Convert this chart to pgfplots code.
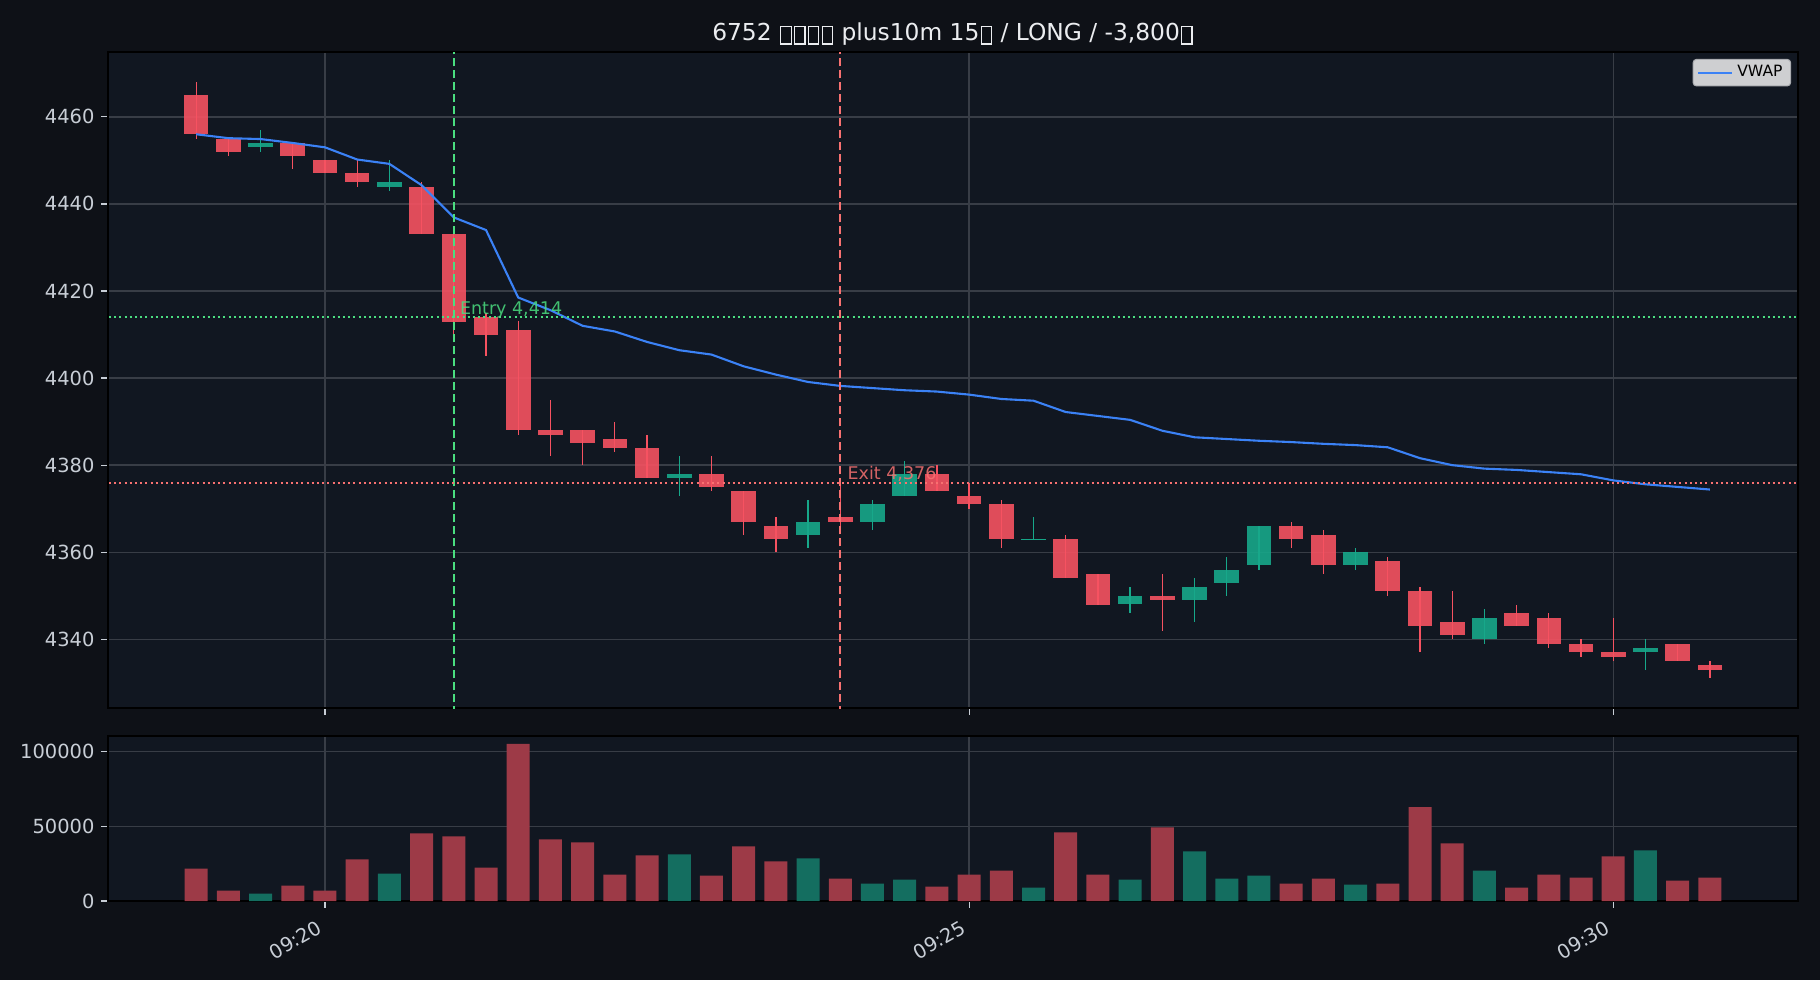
\documentclass[border=0pt]{standalone}
\usepackage{fontspec}
\setmainfont{DejaVu Sans}
\usepackage{pgfplots}
\pgfplotsset{compat=1.18}
\usepackage{pgfplotstable}

\definecolor{figbg}{RGB}{14,17,23}
\definecolor{axbg}{RGB}{17,23,33}
\definecolor{gridc}{RGB}{56,61,70}
\definecolor{tickc}{RGB}{200,206,214}
\definecolor{titlec}{RGB}{235,237,240}
\definecolor{upc}{RGB}{23,168,138}
\definecolor{downc}{RGB}{246,82,97}
\definecolor{volup}{RGB}{20,110,96}
\definecolor{voldown}{RGB}{157,58,71}
\definecolor{vwapc}{RGB}{59,130,246}
\definecolor{entryc}{RGB}{74,222,128}
\definecolor{exitc}{RGB}{248,113,113}
\definecolor{legbg}{RGB}{206,207,209}
\definecolor{legedge}{RGB}{170,172,176}

% 15-second bars: t = minutes after 09:00, OHLC, volume, running VWAP
\pgfplotstableread{
t     o    h    l    c    v      vw
19.00 4465 4468 4455 4456 21700  4456.0
19.25 4455 4455 4451 4452 7000   4455.1
19.50 4453 4457 4452 4454 4900   4454.9
19.75 4454 4454 4448 4451 10300  4454.0
20.00 4450 4450 4447 4447 7000   4453.0
20.25 4447 4450 4444 4445 27800  4450.2
20.50 4444 4450 4443 4445 18400  4449.2
20.75 4444 4445 4433 4433 45300  4444.3
21.00 4433 4433 4410 4413 43300  4436.9
21.25 4414 4415 4405 4410 22400  4434.0
21.50 4411 4413 4387 4388 105200 4418.5
21.75 4388 4395 4382 4387 41200  4415.6
22.00 4388 4388 4380 4385 39200  4412.0
22.25 4386 4390 4383 4384 17700  4410.7
22.50 4384 4387 4377 4377 30500  4408.3
22.75 4377 4382 4373 4378 31200  4406.4
23.00 4378 4382 4374 4375 17000  4405.4
23.25 4374 4374 4364 4367 36500  4402.7
23.50 4366 4368 4360 4363 26500  4400.8
23.75 4364 4372 4361 4367 28500  4399.1
24.00 4368 4377 4366 4367 15000  4398.2
24.25 4367 4372 4365 4371 11700  4397.7
24.50 4373 4381 4373 4378 14300  4397.2
24.75 4378 4380 4374 4374 9600   4396.9
25.00 4373 4376 4370 4371 17700  4396.2
25.25 4371 4372 4361 4363 20400  4395.2
25.50 4363 4368 4363 4363 9000   4394.8
25.75 4363 4364 4354 4354 46000  4392.2
26.00 4355 4355 4348 4348 17700  4391.3
26.25 4348 4352 4346 4350 14300  4390.4
26.50 4350 4355 4342 4349 49300  4387.9
26.75 4349 4354 4344 4352 33200  4386.4
27.00 4353 4359 4350 4356 15000  4386.0
27.25 4357 4366 4356 4366 17000  4385.6
27.50 4366 4367 4361 4363 11700  4385.3
27.75 4364 4365 4355 4357 15000  4384.9
28.00 4357 4361 4356 4360 11000  4384.6
28.25 4358 4359 4350 4351 11700  4384.1
28.50 4351 4352 4337 4343 62800  4381.6
28.75 4344 4351 4340 4341 38600  4380.0
29.00 4340 4347 4339 4345 20400  4379.2
29.25 4346 4348 4343 4343 9000   4378.9
29.50 4345 4346 4338 4339 17700  4378.4
29.75 4339 4340 4336 4337 15700  4377.9
30.00 4337 4345 4335 4336 29800  4376.5
30.25 4337 4340 4333 4338 33900  4375.6
30.50 4339 4339 4335 4335 13700  4375.0
30.75 4334 4335 4331 4333 15700  4374.4
}\bars

% placeholder box for glyphs missing from the font
\newcommand\tofu{\kern0.05em\raisebox{-0.14em}{\setlength\fboxsep{0pt}\setlength\fboxrule{0.05em}\fbox{\rule{0pt}{0.7em}\rule{0.39em}{0pt}}}\kern0.05em}

\pgfplotsset{
  panel/.style={
    scale only axis, anchor=south west,
    axis background/.style={fill=axbg},
    xmin=18.3157, xmax=31.4343,
    grid=major, major grid style={gridc, line width=0.7pt},
    axis line style={black, line width=0.8pt},
    tick align=outside, major tick length=3.4pt,
    every tick/.style={tickc, line width=0.6pt},
    xtick pos=left, ytick pos=left,
    xtick={20,25,30},
    tick label style={font=\fontsize{9.72}{11}\selectfont, text=tickc},
    yticklabel style={anchor=east, inner sep=0pt, xshift=-3.2pt},
    /pgf/number format/assume math mode=true,
    /pgf/number format/fixed,
    /pgf/number format/precision=0,
    /pgf/number format/1000 sep={},
    scaled y ticks=false,
  },
  wick/.style={draw=none, mark=none, forget plot,
    error bars/.cd, y dir=both, y explicit, error mark=none,
    error bar style={draw=#1, solid, line width=0.65pt}},
  body/.style={draw=none, mark=none, forget plot,
    error bars/.cd, y dir=both, y explicit, error mark=none,
    error bar style={draw=#1, solid, draw opacity=0.9, line width=12.3pt}},
}

\begin{document}
\begin{tikzpicture}
\fill[figbg] (0,0) rectangle (910pt,490pt);
\path[use as bounding box] (0,0) rectangle (910pt,490pt);

% price panel
\begin{axis}[panel, at={(54pt,135.85pt)}, width=845pt, height=328.05pt,
  ymin=4324.15, ymax=4474.85, ytick={4340,4360,...,4460},
  xticklabels={},
  legend style={at={(1,1)}, anchor=north east, xshift=-3.5pt, yshift=-3.4pt,
    fill=legbg, draw=legedge, line width=0.5pt, rounded corners=1.5pt,
    font=\fontsize{7.78}{9}\selectfont, text=black, inner xsep=2pt, inner ysep=1pt},
  legend image code/.code={\draw[#1, line width=1.05pt] (0pt,0pt) -- (17pt,0pt);},
  legend cell align=left]

  % wicks
  \addplot[wick=downc] table[x=t,
    y expr={\thisrow{c}<\thisrow{o} ? (\thisrow{h}+\thisrow{l})/2 : nan},
    y error expr={(\thisrow{h}-\thisrow{l})/2}] {\bars};
  \addplot[wick=upc] table[x=t,
    y expr={\thisrow{c}<\thisrow{o} ? nan : (\thisrow{h}+\thisrow{l})/2},
    y error expr={(\thisrow{h}-\thisrow{l})/2}] {\bars};
  % bodies
  \addplot[body=downc] table[x=t,
    y expr={\thisrow{c}<\thisrow{o} ? (\thisrow{o}+\thisrow{c})/2 : nan},
    y error expr={max(abs(\thisrow{o}-\thisrow{c})/2,0.15)}] {\bars};
  \addplot[body=upc] table[x=t,
    y expr={\thisrow{c}<\thisrow{o} ? nan : (\thisrow{o}+\thisrow{c})/2},
    y error expr={max(abs(\thisrow{o}-\thisrow{c})/2,0.15)}] {\bars};

  % VWAP
  \addplot[vwapc, line width=1.05pt, mark=none] table[x=t, y=vw] {\bars};
  \addlegendentry{VWAP}

  % entry / exit markers
  \addplot[entryc, line width=0.95pt, dash pattern=on 4pt off 2pt, forget plot]
    coordinates {(21,4320) (21,4480)};
  \addplot[exitc, line width=0.95pt, dash pattern=on 4pt off 2pt, forget plot]
    coordinates {(24,4320) (24,4480)};
  \addplot[entryc, line width=0.95pt, dash pattern=on 1pt off 1.6pt, forget plot]
    coordinates {(18,4414) (32,4414)};
  \addplot[exitc, line width=0.95pt, dash pattern=on 1pt off 1.6pt, forget plot]
    coordinates {(18,4376) (32,4376)};

  \node[anchor=base west, inner sep=0pt, text=entryc, text opacity=0.85,
    font=\fontsize{8.75}{10}\selectfont] at (axis cs:21.045,4414.7) {Entry 4,414};
  \node[anchor=base west, inner sep=0pt, text=exitc, text opacity=0.85,
    font=\fontsize{8.75}{10}\selectfont] at (axis cs:24.054,4376.7) {Exit 4,376};
\end{axis}

% volume panel
\begin{axis}[panel, at={(54pt,39.5pt)}, width=845pt, height=82.6pt,
  ymin=0, ymax=110600, ytick={0,50000,100000},
  xticklabels={09:20,09:25,09:30},
  xticklabel style={xshift=-4.6pt, yshift=-5.6pt, rotate=30, anchor=north east, inner sep=0pt}]
  \addplot[ybar, bar width=11.5pt, bar shift=0pt, fill=voldown, draw=none] table[x=t,
    y expr={\thisrow{c}<\thisrow{o} ? \thisrow{v} : nan}] {\bars};
  \addplot[ybar, bar width=11.5pt, bar shift=0pt, fill=volup, draw=none] table[x=t,
    y expr={\thisrow{c}<\thisrow{o} ? nan : \thisrow{v}}] {\bars};
\end{axis}

\node[anchor=base, inner sep=0pt, text=titlec, font=\fontsize{11.67}{13}\selectfont]
  at (476.5pt,469.9pt) {6752 \tofu\tofu\tofu\tofu{} plus10m 15\tofu{} / LONG / -3,800\tofu};
\end{tikzpicture}
\end{document}
